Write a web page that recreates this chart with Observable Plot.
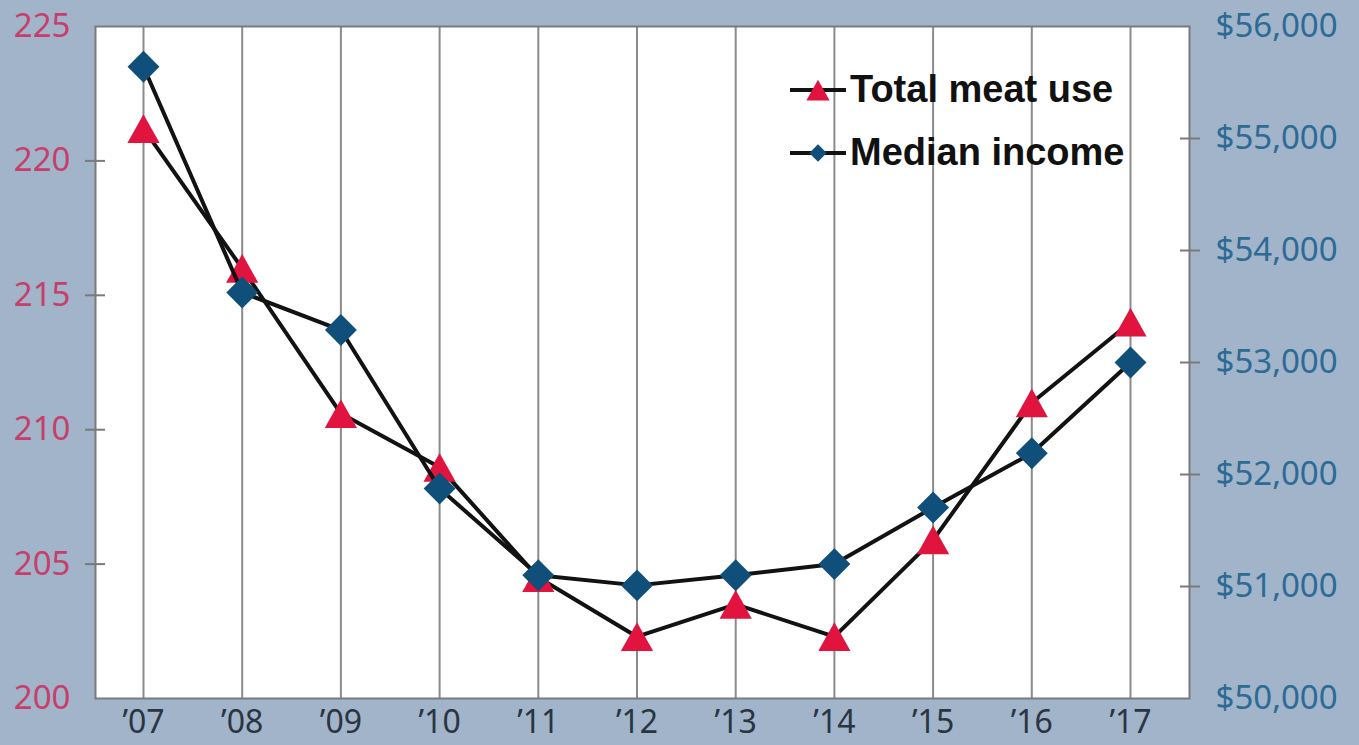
<!DOCTYPE html>
<html>
<head>
<meta charset="utf-8">
<script src="https://cdn.jsdelivr.net/npm/d3@7"></script>
<script src="https://cdn.jsdelivr.net/npm/@observablehq/plot@0.6"></script>
<style>
  body { margin: 0; background: #a1b4c9; }
  #chart { position: relative; width: 1359px; height: 745px; }
  .legend { position: absolute; left: 788px; top: 58px; font-family: "Liberation Sans", Arial, sans-serif;
            font-weight: bold; font-size: 38px; color: #111; }
  .legend .row { display: flex; align-items: center; height: 63px; }
  .legend svg { display: block; margin-right: 2px; }
</style>
</head>
<body>
<div id="chart"></div>
<script>
// Years shown along the bottom and their short labels
const years = [2007, 2008, 2009, 2010, 2011, 2012, 2013, 2014, 2015, 2016, 2017];
const yearLabels = ["’07", "’08", "’09", "’10", "’11", "’12", "’13", "’14", "’15", "’16", "’17"];

// Total meat use (left axis)
const meatUse = [221.2, 216.0, 210.6, 208.6, 204.5, 202.3, 203.5, 202.3, 205.9, 211.0, 214.0];
// Median household income in dollars (right axis)
const medianIncome = [55640, 53625, 53290, 51875, 51100, 51010, 51100, 51200, 51705, 52190, 53000];

// Axis ticks
const meatTicks = [200, 205, 210, 215, 220, 225];
const incomeTicks = [50000, 51000, 52000, 53000, 54000, 55000, 56000];

// Series names for the legend
const seriesNames = ["Total meat use", "Median income"];

const colors = { meat: "#e0143f", income: "#0f4f79", line: "#121212",
                 meatText: "#c63f6b", incomeText: "#2c6b96", yearText: "#2a3542",
                 grid: "#8b8b8b", frame: "#7a7a7a" };

// The income series shares the left scale: $50,000–$56,000 maps onto 200–225
const [m0, m1] = [200, 225];
const [i0, i1] = [50000, 56000];
const toLeft = v => m0 + (v - i0) / (i1 - i0) * (m1 - m0);
const fromLeft = v => i0 + (v - m0) / (m1 - m0) * (i1 - i0);

const rows = years.map((year, i) => ({
  year, meat: meatUse[i], income: medianIncome[i], incomeScaled: toLeft(medianIncome[i])
}));

// Markers centred on their bounding box
const triangleBox = {
  draw(ctx, size) {
    const k = Math.sqrt(size / Math.PI);
    ctx.moveTo(0, -1.25 * k);
    ctx.lineTo(1.4 * k, 1.25 * k);
    ctx.lineTo(-1.4 * k, 1.25 * k);
    ctx.closePath();
  }
};
const diamond = {
  draw(ctx, size) {
    const k = Math.sqrt(size / Math.PI) * 1.45;
    ctx.moveTo(0, -k);
    ctx.lineTo(k, 0);
    ctx.lineTo(0, k);
    ctx.lineTo(-k, 0);
    ctx.closePath();
  }
};

const labelOf = new Map(years.map((y, i) => [y, yearLabels[i]]));
const dollars = d3.format(",");

const chart = Plot.plot({
  width: 1359,
  height: 745,
  marginLeft: 95,
  marginRight: 170,
  marginTop: 26,
  marginBottom: 47,
  style: { background: "transparent", fontFamily: "'Noto Sans', sans-serif", fontSize: "33px", overflow: "visible" },
  x: { domain: [2007, 2017], insetLeft: 48, insetRight: 59, label: null },
  y: { domain: [m0, m1], label: null },
  marks: [
    Plot.frame({ fill: "white" }),
    Plot.ruleX(years, { stroke: colors.grid, strokeWidth: 2 }),
    Plot.frame({ stroke: colors.frame, strokeWidth: 2 }),

    // Tick marks straddling the frame on both sides
    Plot.axisY(meatTicks.slice(1, -1), { anchor: "left", tickSize: 20, dx: 10, fill: "none",
      stroke: colors.frame, strokeWidth: 2, label: null }),
    Plot.axisY(incomeTicks.slice(1, -1).map(toLeft), { anchor: "right", tickSize: 20, dx: -10, fill: "none",
      stroke: colors.frame, strokeWidth: 2, label: null }),

    // Axis labels
    Plot.axisY(meatTicks, { anchor: "left", tickSize: 0, tickPadding: 25, color: colors.meatText, label: null }),
    Plot.axisY(incomeTicks.map(toLeft), { anchor: "right", tickSize: 0, tickPadding: 26, color: colors.incomeText,
      tickFormat: v => "$" + dollars(Math.round(fromLeft(v))), label: null }),
    Plot.axisX(years, { tickSize: 0, tickPadding: 12, fontSize: 32, color: colors.yearText,
      tickFormat: d => labelOf.get(d), label: null }),

    // Total meat use
    Plot.line(rows, { x: "year", y: "meat", stroke: colors.line, strokeWidth: 4 }),
    Plot.dot(rows, { x: "year", y: "meat", symbol: triangleBox, r: 11.5, fill: colors.meat, stroke: "none" }),

    // Median income
    Plot.line(rows, { x: "year", y: "incomeScaled", stroke: colors.line, strokeWidth: 4 }),
    Plot.dot(rows, { x: "year", y: "incomeScaled", symbol: diamond, r: 11, fill: colors.income, stroke: "none" })
  ]
});

const container = document.getElementById("chart");
container.appendChild(chart);

// Legend: line-and-marker swatch followed by the series name
const legend = document.createElement("div");
legend.className = "legend";
const swatches = [
  { symbol: triangleBox, r: 8.3, fill: colors.meat },
  { symbol: diamond, r: 6, fill: colors.income }
];
seriesNames.forEach((name, i) => {
  const row = document.createElement("div");
  row.className = "row";
  const sw = swatches[i];
  const path = d3.symbol(sw.symbol, Math.PI * sw.r * sw.r)();
  row.innerHTML =
    `<svg width="60" height="40" viewBox="0 0 60 40">
       <line x1="2" x2="58" y1="20" y2="20" stroke="${colors.line}" stroke-width="4"/>
       <path d="${path}" transform="translate(30,20)" fill="${sw.fill}"/>
     </svg><span>${name}</span>`;
  legend.appendChild(row);
});
container.appendChild(legend);
</script>
</body>
</html>
